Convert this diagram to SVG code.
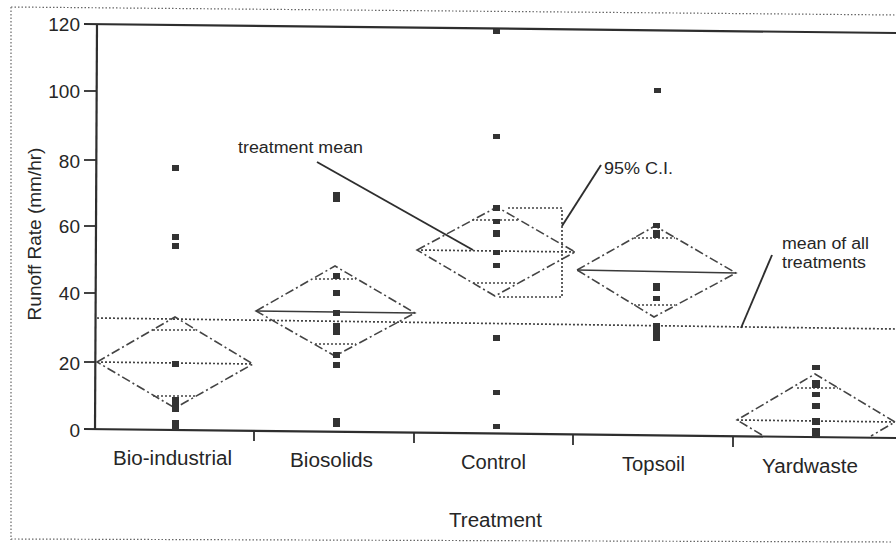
<svg xmlns="http://www.w3.org/2000/svg" width="896" height="546" viewBox="0 0 896 546">
<style>
text{font-family:"Liberation Sans",Arial,sans-serif;fill:#262626}
.tick{font-size:19px;text-anchor:end}
.cat{font-size:20px}
.ann{font-size:16px}
.border{stroke:#666;stroke-width:1.2;stroke-dasharray:1.5,2;fill:none}
.axis{stroke:#2e2e2e;stroke-width:2.2;fill:none}
.tk{stroke:#2e2e2e;stroke-width:1.8}
.dia{stroke:#444;stroke-width:1.6;stroke-dasharray:9,3,2,3;fill:none}
.dot{stroke:#444;stroke-width:1.7;stroke-dasharray:2,2;fill:none}
.solid{stroke:#3a3a3a;stroke-width:1.4;fill:none}
.lead{stroke:#2e2e2e;stroke-width:1.9;fill:none}
.pt{fill:#333}
</style>
<rect width="896" height="546" fill="#fff"/>
<g id="border">
<line class="border" x1="11" y1="7" x2="896" y2="15"/>
<line class="border" x1="11" y1="7" x2="11" y2="540"/>
<line class="border" x1="11" y1="539" x2="892" y2="542"/>
</g>
<g id="axes">
<line class="axis" x1="84" y1="24" x2="896" y2="33"/>
<line class="axis" x1="97" y1="24" x2="95" y2="430"/>
<line class="axis" x1="84" y1="429" x2="896" y2="438"/>
<line class="tk" x1="84" y1="91" x2="97" y2="91"/>
<line class="tk" x1="84" y1="160" x2="97" y2="160"/>
<line class="tk" x1="84" y1="226" x2="96" y2="226"/>
<line class="tk" x1="84" y1="293" x2="96" y2="293"/>
<line class="tk" x1="84" y1="362" x2="96" y2="362"/>
<line class="tk" x1="254" y1="431" x2="254" y2="441"/>
<line class="tk" x1="414" y1="433" x2="414" y2="443"/>
<line class="tk" x1="573" y1="435" x2="573" y2="445"/>
<line class="tk" x1="733" y1="437" x2="733" y2="447"/>
<text class="tick" x="80" y="31">120</text>
<text class="tick" x="80" y="98">100</text>
<text class="tick" x="80" y="168">80</text>
<text class="tick" x="80" y="233">60</text>
<text class="tick" x="80" y="300">40</text>
<text class="tick" x="80" y="370">20</text>
<text class="tick" x="80" y="437">0</text>
<text class="cat" transform="translate(41,234) rotate(-90)" text-anchor="middle" style="font-size:19px">Runoff Rate (mm/hr)</text>
<text class="cat" x="113" y="465" textLength="119" lengthAdjust="spacingAndGlyphs">Bio-industrial</text>
<text class="cat" x="290" y="467" textLength="83" lengthAdjust="spacingAndGlyphs">Biosolids</text>
<text class="cat" x="461" y="469" textLength="65" lengthAdjust="spacingAndGlyphs">Control</text>
<text class="cat" x="622" y="471" textLength="63" lengthAdjust="spacingAndGlyphs">Topsoil</text>
<text class="cat" x="762" y="473" textLength="96" lengthAdjust="spacingAndGlyphs">Yardwaste</text>
<text class="cat" x="449" y="527" textLength="93" lengthAdjust="spacingAndGlyphs">Treatment</text>
</g>
<g id="grand-mean">
<line class="dot" x1="97" y1="318" x2="896" y2="329"/>
</g>
<g id="bio-industrial">
<polygon class="dia" points="97,362 175,317 253,364 175,408"/>
<line class="dot" x1="97" y1="362" x2="253" y2="364"/>
<line class="dot" x1="153" y1="330" x2="197" y2="330"/>
<line class="dot" x1="153" y1="396" x2="197" y2="396"/>
<rect class="pt" x="172" y="165" width="7" height="6"/>
<rect class="pt" x="172" y="234" width="7" height="6"/>
<rect class="pt" x="172" y="243" width="7" height="6"/>
<rect class="pt" x="172" y="361" width="7" height="6"/>
<rect class="pt" x="172" y="397" width="7" height="15"/>
<rect class="pt" x="172" y="420" width="7" height="10"/>
</g>
<g id="biosolids">
<polygon class="dia" points="256,311 335,266 415,313 335,356"/>
<line class="solid" x1="256" y1="311" x2="415" y2="313"/>
<line class="dot" x1="315" y1="279" x2="356" y2="279"/>
<line class="dot" x1="315" y1="344" x2="356" y2="344"/>
<rect class="pt" x="333" y="192" width="7" height="10"/>
<rect class="pt" x="333" y="273" width="7" height="6"/>
<rect class="pt" x="333" y="290" width="7" height="6"/>
<rect class="pt" x="333" y="310" width="7" height="6"/>
<rect class="pt" x="333" y="323" width="7" height="12"/>
<rect class="pt" x="333" y="352" width="7" height="6"/>
<rect class="pt" x="333" y="362" width="7" height="6"/>
<rect class="pt" x="333" y="418" width="7" height="9"/>
</g>
<g id="control">
<polygon class="dia" points="417,250 497,207 575,252 495,296"/>
<line class="dot" x1="417" y1="250" x2="575" y2="252"/>
<line class="dot" x1="472" y1="220" x2="520" y2="220"/>
<line class="dot" x1="473" y1="283" x2="517" y2="283"/>
<polyline class="dot" points="508,208 562,208 562,297 497,297"/>
<rect class="pt" x="493" y="29" width="7" height="5"/>
<rect class="pt" x="493" y="134" width="7" height="5"/>
<rect class="pt" x="493" y="205" width="7" height="6"/>
<rect class="pt" x="493" y="219" width="7" height="5"/>
<rect class="pt" x="493" y="230" width="7" height="7"/>
<rect class="pt" x="493" y="250" width="7" height="5"/>
<rect class="pt" x="493" y="263" width="7" height="5"/>
<rect class="pt" x="493" y="335" width="7" height="6"/>
<rect class="pt" x="493" y="390" width="7" height="5"/>
<rect class="pt" x="493" y="424" width="7" height="5"/>
</g>
<g id="topsoil">
<polygon class="dia" points="577,270 655,226 736,273 654,317"/>
<line class="solid" x1="577" y1="270" x2="736" y2="273"/>
<line class="dot" x1="634" y1="238" x2="675" y2="238"/>
<line class="dot" x1="634" y1="305" x2="675" y2="305"/>
<rect class="pt" x="654" y="88" width="7" height="5"/>
<rect class="pt" x="653" y="223" width="7" height="5"/>
<rect class="pt" x="653" y="230" width="7" height="8"/>
<rect class="pt" x="653" y="283" width="7" height="8"/>
<rect class="pt" x="653" y="296" width="7" height="5"/>
<rect class="pt" x="653" y="323" width="7" height="18"/>
</g>
<g id="yardwaste">
<polyline class="dia" points="762,435 737,420 815,374 895,422 871,436"/>
<line class="dot" x1="737" y1="420" x2="896" y2="422"/>
<line class="dot" x1="797" y1="388" x2="838" y2="388"/>
<rect class="pt" x="812" y="365" width="8" height="5"/>
<rect class="pt" x="812" y="380" width="8" height="8"/>
<rect class="pt" x="812" y="392" width="8" height="5"/>
<rect class="pt" x="812" y="403" width="8" height="6"/>
<rect class="pt" x="812" y="418" width="8" height="7"/>
<rect class="pt" x="812" y="428" width="8" height="9"/>
</g>
<g id="connectors">
<line class="lead" x1="317" y1="162" x2="473" y2="250"/>
<line class="lead" x1="562" y1="226" x2="601" y2="165"/>
<line class="lead" x1="772" y1="255" x2="741" y2="328"/>
</g>
<g id="annotations">
<text class="ann" x="238" y="153" textLength="125" lengthAdjust="spacingAndGlyphs">treatment mean</text>
<text class="ann" x="604" y="174" textLength="69" lengthAdjust="spacingAndGlyphs">95% C.I.</text>
<text class="ann" x="782" y="249" textLength="87" lengthAdjust="spacingAndGlyphs">mean of all</text>
<text class="ann" x="782" y="268" textLength="84" lengthAdjust="spacingAndGlyphs">treatments</text>
</g>
</svg>
